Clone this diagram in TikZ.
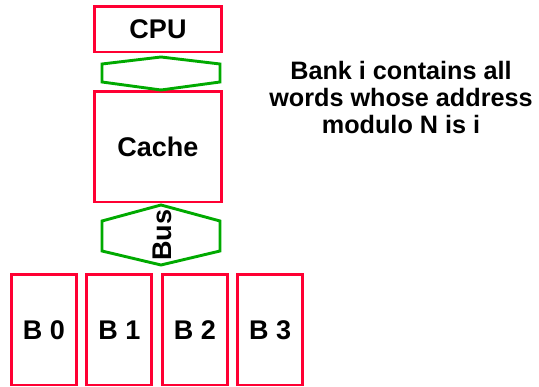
\documentclass[tikz,border=0pt]{standalone}
\usepackage{fontspec}
\setmainfont{Liberation Sans}
\usepackage{xcolor}
\usepackage{tikz}
\usetikzlibrary{positioning}
\definecolor{memred}{RGB}{255,0,51}
\definecolor{busgreen}{RGB}{0,170,0}

\begin{document}
\begin{tikzpicture}[x=1pt,y=-1pt]
\tikzset{
  rb/.style={rectangle,draw=memred,line width=2.9pt,inner sep=0pt,minimum width=127pt,font=\bfseries\fontsize{27}{32}\selectfont},
  bk/.style={rb,minimum width=65pt,minimum height=110.5pt},
  hx/.style={draw=busgreen,line width=2.9pt,line join=miter},
  lb/.style={font=\bfseries\fontsize{25.2}{27}\selectfont,align=center}
}
\useasboundingbox (0,0) rectangle (539,387);
\node[rb,minimum height=45.5pt] (cpu) at (158,29.25) {CPU};
\node[rb,minimum height=110.5pt] (cache) at (158,146.75) {Cache};
\draw[hx] (102,64) -- (161,57) -- (220,64) -- (220,82) -- (161,90) -- (102,82) -- cycle;
\draw[hx] (102,221) -- (161,205) -- (220,221) -- (220,251) -- (161,265) -- (102,251) -- cycle;
\node[font=\bfseries\fontsize{27}{32}\selectfont,rotate=90] (bus) at (162,235) {Bus};
\node[bk] (b0) at (44,329.75) {B 0};
\node[bk,right=7.5pt of b0] (b1) {B 1};
\node[bk,right=7.5pt of b1] (b2) {B 2};
\node[bk,right=7.5pt of b2] (b3) {B 3};
\node[lb] (note) at (401,97) {Bank i contains all\\ words whose address\\ modulo N is i};
\end{tikzpicture}
\end{document}
